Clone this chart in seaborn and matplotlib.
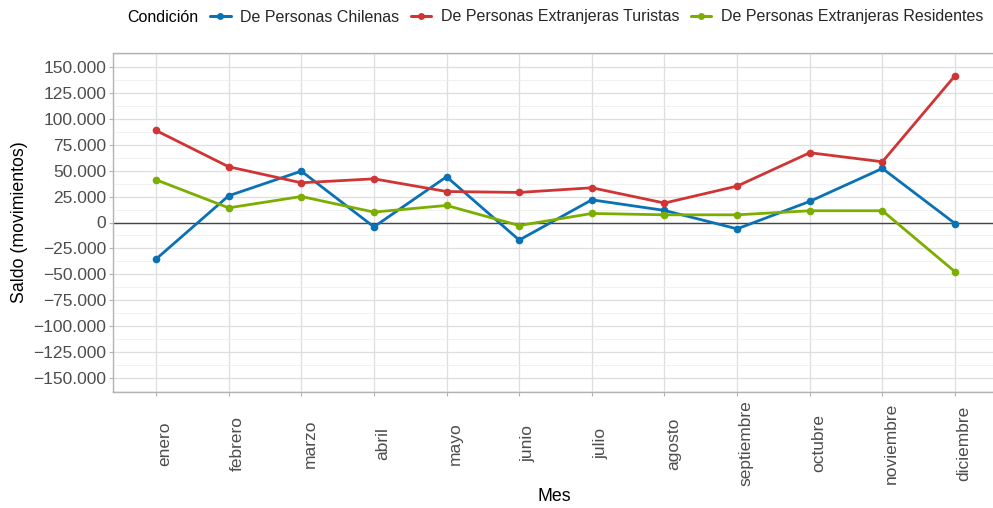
import numpy as np
import pandas as pd
import matplotlib
matplotlib.use("Agg")
import matplotlib.pyplot as plt
import matplotlib.transforms as mtransforms
from matplotlib.lines import Line2D
from matplotlib.ticker import FuncFormatter, FixedLocator
import seaborn as sns

meses = ["enero", "febrero", "marzo", "abril", "mayo", "junio", "julio",
         "agosto", "septiembre", "octubre", "noviembre", "diciembre"]
condiciones = ["De Personas Chilenas", "De Personas Extranjeras Turistas",
               "De Personas Extranjeras Residentes"]
chilenas = [-35200, 25700, 49400, -4200, 44000, -16900, 21800, 11600, -6100, 20300, 52000, -1000]
turistas = [88500, 53600, 38200, 42000, 29800, 28900, 33400, 18700, 35000, 67100, 58400, 141200]
residentes = [41100, 14100, 25000, 10000, 16400, -2900, 8700, 7400, 7400, 11300, 11300, -47400]
colores = ["#0A72B4", "#D03535", "#7CAE00"]
y_ticks = list(range(-150000, 150001, 25000))

rows = []
for cond, vals in zip(condiciones, [chilenas, turistas, residentes]):
    for i, (m, v) in enumerate(zip(meses, vals)):
        rows.append({"Mes": m, "pos": i, "Condición": cond, "Saldo": v})
df = pd.DataFrame(rows)

sns.set_theme(style="white")
plt.rcParams["font.family"] = ["Liberation Sans", "DejaVu Sans"]

fig = plt.figure(figsize=(9.93, 5.08), dpi=100)
W, H = 993, 508
left, right, top, bottom = 113, 995, 53, 392
ax = fig.add_axes([left / W, (H - bottom) / H, (right - left) / W, (bottom - top) / H])

ax.axhline(0, color="#454545", lw=1.0, zorder=2)
sns.lineplot(data=df, x="pos", y="Saldo", hue="Condición", hue_order=condiciones,
             palette=colores, marker="o", markersize=5.5, markeredgewidth=0,
             linewidth=2.0, legend=False, ax=ax, zorder=3)

ax.set_xlim(-0.592, 11.55)
ax.set_ylim(-163000, 163000)
ax.xaxis.set_major_locator(FixedLocator(range(len(meses))))
ax.set_xticklabels(meses)
ax.yaxis.set_major_locator(FixedLocator(y_ticks))
ax.yaxis.set_minor_locator(FixedLocator([t + 12500 for t in y_ticks[:-1]] + [-162500, 162500]))

def fmt(v, pos):
    s = f"{abs(int(round(v))):,}".replace(",", ".")
    return ("\u2212" + s) if v < 0 else s
ax.yaxis.set_major_formatter(FuncFormatter(fmt))

ax.grid(True, which="major", color="#DEDEDE", lw=0.9, zorder=0)
ax.grid(True, which="minor", axis="y", color="#EBEBEB", lw=0.5, zorder=0)
ax.set_axisbelow(True)
for sp in ax.spines.values():
    sp.set_color("#B3B3B3")
    sp.set_linewidth(1.0)

ax.tick_params(axis="both", which="major", color="#B3B3B3", length=3, width=0.8,
               labelsize=12.5, labelcolor="#4D4D4D")
ax.tick_params(axis="y", which="major", left=True, pad=2)
ax.tick_params(axis="x", which="major", bottom=True, pad=34)
ax.tick_params(which="minor", length=0)
offset = mtransforms.ScaledTranslation(9 / 100, 0, fig.dpi_scale_trans)
for lab in ax.get_xticklabels():
    lab.set_rotation(90)
    lab.set_va("center")
    lab.set_ha("center")
    lab.set_transform(lab.get_transform() + offset)

ax.set_xlabel("Mes", fontsize=12.8, color="black")
ax.set_ylabel("Saldo (movimientos)", fontsize=12.8, color="black")
ax.xaxis.set_label_coords(0.5, -0.283)
ax.xaxis.label.set_va("top")
ax.yaxis.set_label_coords(-0.096, 0.5)

fig.text(127 / W, 1 - 17 / H, "Condición", fontsize=11.5, va="center", ha="left", color="black")
handles = [Line2D([0], [0], color=c, lw=2.2, marker="o", markersize=5, markeredgewidth=0)
           for c in colores]
fig.legend(handles, condiciones, loc="center left", bbox_to_anchor=(210 / W, 1 - 17 / H),
           ncol=3, frameon=False, fontsize=11.5, handlelength=1.3, handletextpad=0.6,
           columnspacing=0.7, borderpad=0, borderaxespad=0)

fig.savefig("out.png", dpi=100)
